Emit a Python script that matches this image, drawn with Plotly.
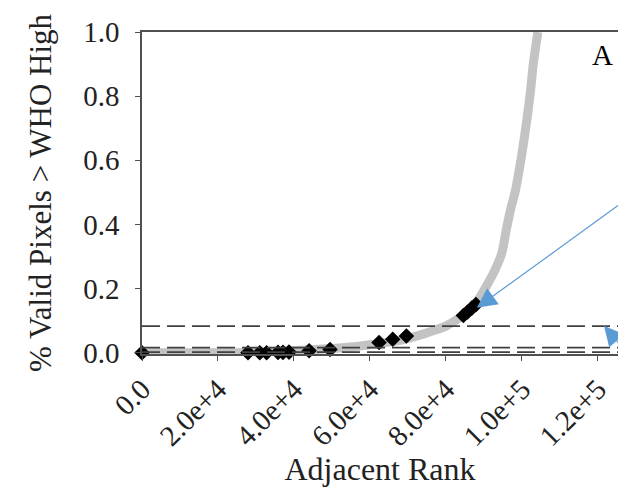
import plotly.graph_objects as go

# Grey ranked curve
curve_x = [0, 10000, 20000, 28000, 35000, 42000, 49500, 55000, 60000, 65000, 70000,
           74000, 77000, 80000, 83000, 86000, 88500, 91000, 93000, 94700, 96000,
           97100, 98200, 99000, 100000, 101300, 102300, 103000, 103700, 104200]
curve_y = [0, 0, 0, 0.001, 0.004, 0.008, 0.013, 0.018, 0.025, 0.033, 0.044,
           0.058, 0.07, 0.083, 0.104, 0.13, 0.165, 0.215, 0.26, 0.31, 0.39,
           0.45, 0.5, 0.55, 0.62, 0.725, 0.82, 0.9, 0.96, 1.0]

# Black diamonds
pts_x = [0, 27900, 31000, 32800, 35800, 37100, 38700, 44000, 49500, 62400, 66000,
         69600, 84600, 85700, 86800, 87900]
pts_y = [0, 0, 0, 0, 0.001, 0.001, 0.002, 0.006, 0.01, 0.032, 0.042, 0.052,
         0.116, 0.127, 0.139, 0.15]

# Dashed threshold lines
thresholds = [0.083, 0.016, 0.002]

# Axis ticks
x_tickvals = [0, 20000, 40000, 60000, 80000, 100000, 120000]
x_ticktext = ["0.0", "2.0e+4", "4.0e+4", "6.0e+4", "8.0e+4", "1.0e+5", "1.2e+5"]
y_tickvals = [0, 0.2, 0.4, 0.6, 0.8, 1.0]
y_ticktext = ["0.0", "0.2", "0.4", "0.6", "0.8", "1.0"]

# Arrow targets
arrow_x = [88160, 121600]
arrow_y = [0.14, 0.084]

FONT = "Liberation Serif"
AX = "#505050"

fig = go.Figure()
fig.add_trace(go.Scatter(x=curve_x, y=curve_y, mode="lines",
                         line=dict(color="#c3c3c3", width=9, shape="spline",
                                   smoothing=0.8),
                         showlegend=False, cliponaxis=False))
fig.add_trace(go.Scatter(x=pts_x, y=pts_y, mode="markers",
                         marker=dict(symbol="diamond", color="black", size=12),
                         showlegend=False, cliponaxis=False))
for t in thresholds:
    fig.add_hline(y=t, line=dict(color="#404040", width=1.6, dash="18px,7px"))

fig.add_annotation(x=arrow_x[0], y=arrow_y[0], text="", showarrow=True,
                   ax=150, ay=-108, arrowhead=2, arrowsize=3.3, arrowwidth=1.2,
                   arrowcolor="#5b9bd5", standoff=0)
fig.add_annotation(x=arrow_x[1], y=arrow_y[1], text="", showarrow=True,
                   ax=26, ay=26, arrowhead=2, arrowsize=3.3, arrowwidth=1.2,
                   arrowcolor="#5b9bd5", standoff=0)
fig.add_annotation(x=0.968, y=0.929, xref="paper", yref="paper", text="A",
                   showarrow=False, xanchor="center", yanchor="middle",
                   font=dict(family=FONT, size=29, color="black"))

fig.update_layout(
    width=618, height=479,
    margin=dict(l=134, r=8, t=24, b=133),
    paper_bgcolor="white", plot_bgcolor="white",
    font=dict(family=FONT, color="#222"),
    xaxis=dict(range=[0, 125300], tickvals=x_tickvals, ticktext=x_ticktext,
               tickangle=-45, tickfont=dict(size=29), ticks="outside", ticklen=5,
               tickcolor=AX, showline=True, linecolor=AX, linewidth=1.5,
               mirror=True, showgrid=False, zeroline=False, automargin=False,
               title=dict(text="Adjacent Rank", font=dict(size=32), standoff=4)),
    yaxis=dict(range=[-0.004, 1.0], tickvals=y_tickvals, ticktext=y_ticktext,
               tickfont=dict(size=29), ticks="outside", ticklen=5,
               ticklabelstandoff=10,
               tickcolor=AX, showline=True, linecolor=AX, linewidth=1.5,
               mirror=True, showgrid=False, zeroline=False, automargin=False,
               title=dict(text="% Valid Pixels > WHO High", font=dict(size=31),
                          standoff=22)),
)
fig.write_html("out.html")
